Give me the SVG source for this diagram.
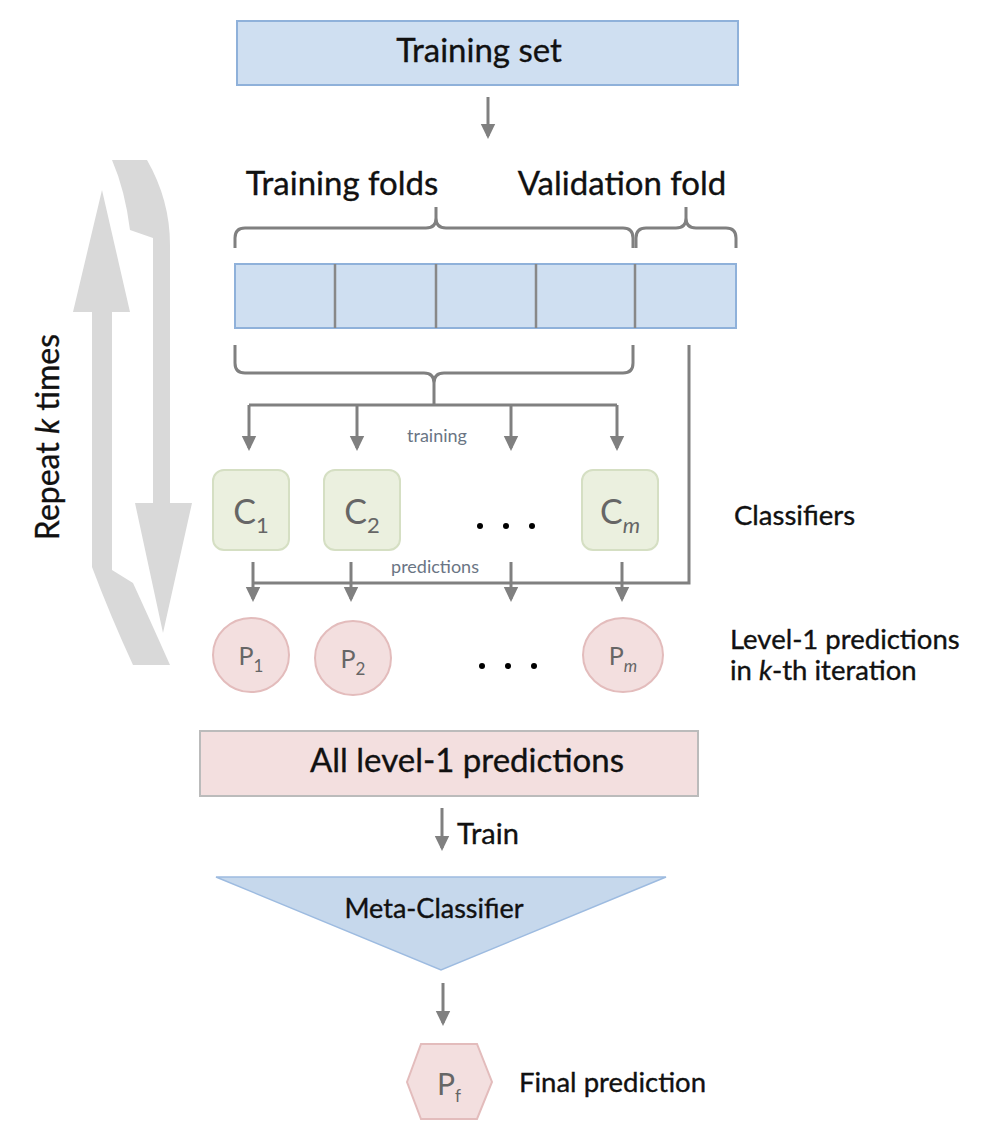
<svg xmlns="http://www.w3.org/2000/svg" width="988" height="1130" viewBox="0 0 988 1130">
<style>
  .t{font-family:Lato,"Open Sans","Liberation Sans",sans-serif;fill:#111;stroke:#111;stroke-width:0.35}
  .g{font-family:Lato,"Open Sans","Liberation Sans",sans-serif;fill:#666}
  .s{font-family:Lato,"Open Sans","Liberation Sans",sans-serif;fill:#6a7584}
  .ln{fill:none;stroke:#808080;stroke-width:3}
  .blue{fill:#cfdff1;stroke:#8fb1da;stroke-width:2}
  .cls{fill:#ebf0df;stroke:#d5dfc3;stroke-width:2}
  .pnk{fill:#f3dfdf;stroke:#e3bcbc;stroke-width:2}
  .dot{fill:#000}
</style>
<defs>
  <marker id="ah" markerWidth="6" markerHeight="6" refX="4" refY="3" orient="auto" markerUnits="strokeWidth">
    <path d="M0,0.6 L5,3 L0,5.4 Z" fill="#808080"/>
  </marker>
</defs>

<g id="repeat">
  <path d="M112,160 L147,160 Q170,200 170,245 L170,503 L192,503 L163,633 L135,503 L153,503 L153,238 L130,230 Q125,190 112,160 Z" fill="#d9d9d9"/>
  <path d="M102,190 L130,312 L112,312 L112,570 L133,583 Q150,620 170,665 L133,665 Q110,615 92,567 L92,312 L73,312 Z" fill="#d9d9d9"/>
  <text class="t" x="59" y="437" font-size="32" text-anchor="middle" transform="rotate(-90 59 437)">Repeat <tspan font-style="italic">k</tspan> times</text>
</g>

<g id="training-set">
  <rect class="blue" x="237" y="21" width="501" height="64"/>
  <text class="t" x="479" y="62" font-size="33" text-anchor="middle">Training set</text>
</g>

<g id="folds">
  <rect class="blue" x="235" y="264" width="501" height="64"/>
  <path d="M335,264 V328 M436,264 V328 M536,264 V328 M635,264 V328" stroke="#888" stroke-width="2.5" fill="none"/>
  <text class="t" x="342" y="195" font-size="33" text-anchor="middle">Training folds</text>
  <text class="t" x="622" y="195" font-size="33" text-anchor="middle">Validation fold</text>
</g>

<g id="braces">
  <path class="ln" stroke-width="2.5" d="M235,248 V238 Q235,228 245,228 H426 Q436,228 436,218 V207 M436,218 Q436,228 446,228 H623 Q633,228 633,238 V248"/>
  <path class="ln" stroke-width="2.5" d="M636,248 V238 Q636,228 646,228 H676 Q686,228 686,218 V207 M686,218 Q686,228 696,228 H726 Q736,228 736,238 V248"/>
  <path class="ln" stroke-width="2.5" d="M235,345 V363 Q235,373 245,373 H424 Q434,373 434,383 V405 M434,383 Q434,373 444,373 H623 Q633,373 633,363 V345"/>
</g>

<g id="c1"><rect class="cls" x="213" y="470" width="76" height="80" rx="11"/><text class="g" x="251" y="524" font-size="34" text-anchor="middle">C<tspan font-size="22" dy="9">1</tspan></text></g>
<g id="c2"><rect class="cls" x="324" y="470" width="76" height="80" rx="11"/><text class="g" x="362" y="524" font-size="34" text-anchor="middle">C<tspan font-size="22" dy="9">2</tspan></text></g>
<g id="cm"><rect class="cls" x="582" y="470" width="76" height="80" rx="11"/><text class="g" x="620" y="524" font-size="34" text-anchor="middle">C<tspan font-size="22" dy="9" font-style="italic">m</tspan></text></g>
<g id="cdots"><circle class="dot" cx="480" cy="526" r="3"/><circle class="dot" cx="506" cy="526" r="3"/><circle class="dot" cx="532" cy="526" r="3"/></g>

<g id="p1"><ellipse class="pnk" cx="251" cy="655" rx="38" ry="37"/><text class="g" x="251" y="665" font-size="25" text-anchor="middle">P<tspan font-size="17" dy="7">1</tspan></text></g>
<g id="p2"><ellipse class="pnk" cx="353" cy="658" rx="38" ry="37"/><text class="g" x="353" y="668" font-size="25" text-anchor="middle">P<tspan font-size="17" dy="7">2</tspan></text></g>
<g id="pm"><ellipse class="pnk" cx="623" cy="655" rx="40" ry="37"/><text class="g" x="623" y="665" font-size="25" text-anchor="middle">P<tspan font-size="17" dy="7" font-style="italic">m</tspan></text></g>
<g id="pdots"><circle class="dot" cx="482" cy="666" r="3"/><circle class="dot" cx="508" cy="666" r="3"/><circle class="dot" cx="534" cy="666" r="3"/></g>

<g id="labels">
  <text class="t" x="734" y="525" font-size="27.5">Classifiers</text>
  <text class="t" x="730" y="649" font-size="27.5">Level-1 predictions</text>
  <text class="t" x="730" y="680" font-size="27.5">in <tspan font-style="italic">k</tspan>-th iteration</text>
  <text class="s" x="437" y="442" font-size="18" text-anchor="middle">training</text>
  <text class="s" x="435" y="573" font-size="18" text-anchor="middle">predictions</text>
</g>

<g id="all-level1">
  <rect x="200" y="731" width="498" height="65" fill="#f3dfdf" stroke="#bbb" stroke-width="2"/>
  <text class="t" x="467" y="772" font-size="33" text-anchor="middle">All level-1 predictions</text>
</g>

<g id="meta">
  <polygon points="216,877 666,877 441,970" fill="#c6d8ec" stroke="#9dbbe0" stroke-width="1.5"/>
  <text class="t" x="434" y="918" font-size="27" text-anchor="middle">Meta-Classifier</text>
</g>

<g id="final">
  <polygon points="407,1082 421,1044 477,1044 492,1082 477,1119 421,1119" fill="#f3dfdf" stroke="#e3bcbc" stroke-width="2"/>
  <text class="g" x="449" y="1095" font-size="30" text-anchor="middle">P<tspan font-size="17" dy="7">f</tspan></text>
  <text class="t" x="519" y="1092" font-size="27.5">Final prediction</text>
</g>

<g id="connectors">
  <path class="ln" marker-end="url(#ah)" d="M488,97 V136"/>
  <path class="ln" d="M249,405 H617"/>
  <path class="ln" marker-end="url(#ah)" d="M249,405 V448"/>
  <path class="ln" marker-end="url(#ah)" d="M357,405 V448"/>
  <path class="ln" marker-end="url(#ah)" d="M511,405 V448"/>
  <path class="ln" marker-end="url(#ah)" d="M617,405 V448"/>
  <path class="ln" d="M689,345 V583 H253"/>
  <path class="ln" marker-end="url(#ah)" d="M253,562 V599"/>
  <path class="ln" marker-end="url(#ah)" d="M351,562 V599"/>
  <path class="ln" marker-end="url(#ah)" d="M511,562 V599"/>
  <path class="ln" marker-end="url(#ah)" d="M622,562 V599"/>
  <path class="ln" stroke-width="2" marker-end="url(#ah)" d="M442,808 V848"/>
  <text class="t" x="457" y="844" font-size="29">Train</text>
  <path class="ln" marker-end="url(#ah)" d="M443,983 V1023"/>
</g>
</svg>
